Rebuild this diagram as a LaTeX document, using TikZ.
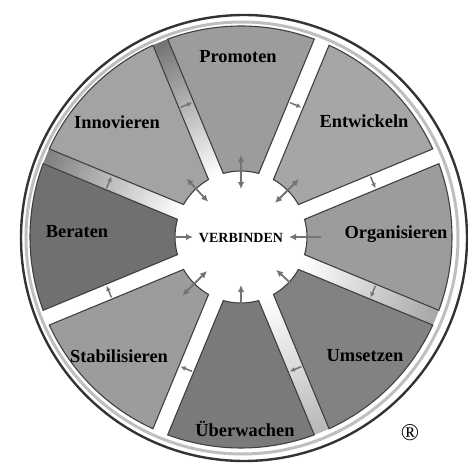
\documentclass[tikz,border=0pt]{standalone}
\usepackage{fontspec}
\setmainfont{Liberation Serif}
\usetikzlibrary{arrows.meta}

\begin{document}
\begin{tikzpicture}[x=1pt,y=1pt,seg/.style={draw=black!75,line width=1.1pt},lbl/.style={font=\fontsize{18.4}{20}\selectfont\bfseries},
arr/.style={-{Latex[length=7pt,width=6.5pt]},black!55,line width=1.8pt},darr/.style={{Latex[length=7pt,width=6.5pt]}-{Latex[length=7pt,width=6.5pt]},black!55,line width=1.8pt},
garr/.style={-{Latex[length=5pt,width=5pt]},black!55,line width=1.5pt}]
\useasboundingbox (-241,-228) rectangle (227,237);
\draw[black!25,line width=3pt](1,-1) circle (216);\draw[black!80,line width=2.4pt](3,-1) circle (223);
\foreach \b/\c in {112.5/black!55,157.5/black!50,-22.5/black!35,-67.5/black!28}{\begin{scope}[transform canvas={rotate=\b}]\shade[left color=white,middle color=white,right color=\c](66,-8) rectangle (211,8);\end{scope}}
\foreach \a/\c in {90/39,45/35,0/39,-45/49,-90/52,-135/39,180/56,135/36}{\begin{scope}[rotate=\a]\draw[seg,fill=black!\c](15.54:66)--(20.33:211) arc[start angle=20.33,end angle=-20.33,radius=211]--(-15.54:66) arc[start angle=-15.54,end angle=15.54,radius=66]--cycle;\end{scope}}
\node[font=\fontsize{14}{16}\selectfont\bfseries](hub) at (0,-1){VERBINDEN};
\node[lbl](promoten) at (-3,180){Promoten};\node[lbl](entwickeln) at (123,116){Entwickeln};\node[lbl](organisieren) at (155,3){Organisieren};
\node[lbl](umsetzen) at (124,-119){Umsetzen};\node[lbl](ueberwachen) at (4,-192){Überwachen};\node[lbl](stabilisieren) at (-122,-119){Stabilisieren};
\node[lbl](beraten) at (-164,5){Beraten};\node[lbl](innovieren) at (-124,115){Innovieren};
\node[font=\fontsize{24}{24}\selectfont](reg) at (169,-196){®};
\foreach \a/\r/\s [count=\i] in {90/82/darr,45/82/darr,0/80/arr,-43/68/arr,-90/68/arr,-135/83/darr,180/81/arr,133/80/darr}{\coordinate(ro\i) at (\a:\r);\coordinate(ri\i) at (\a:48);\draw[\s](ro\i)--(ri\i);}
\foreach \g [count=\i] in {112.5,67.5,22.5,-22.5,-67.5,-112.5,-157.5,157.5}{\coordinate(gs\i) at (\g+2.5:143);\coordinate(ge\i) at (\g-2.5:143);\draw[garr](gs\i)--(ge\i);}
\end{tikzpicture}
\end{document}
